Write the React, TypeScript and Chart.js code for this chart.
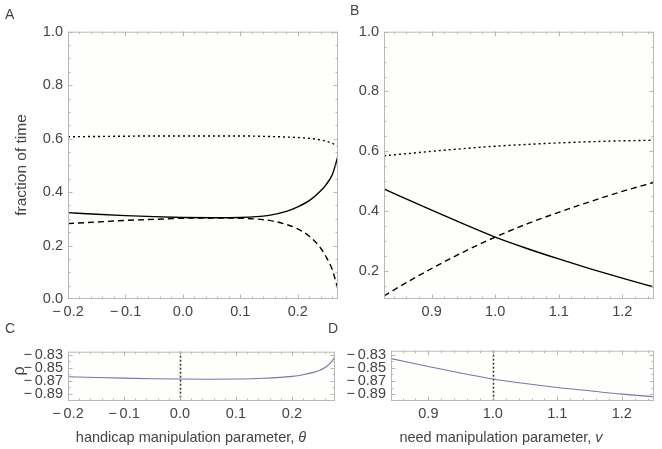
import React, { useEffect, useRef } from "react";
import { Chart, registerables } from "chart.js";

Chart.register(...registerables);

// ---------- data ----------
// Panel A: handicap manipulation parameter theta
const thetaA = [-0.2, -0.15, -0.1, -0.05, 0, 0.05, 0.1, 0.15, 0.18, 0.2, 0.22, 0.24, 0.25, 0.26, 0.27];
const solidA = [0.323, 0.317, 0.312, 0.308, 0.305, 0.304, 0.305, 0.313, 0.328, 0.345, 0.368, 0.405, 0.43, 0.465, 0.535];
const dashedA = [0.282, 0.288, 0.294, 0.298, 0.302, 0.303, 0.302, 0.294, 0.279, 0.262, 0.235, 0.19, 0.155, 0.11, 0.035];
const dottedA = [0.607, 0.608, 0.609, 0.61, 0.61, 0.61, 0.61, 0.608, 0.606, 0.604, 0.601, 0.595, 0.59, 0.582, 0.572];

// Panel B: need manipulation parameter v
const nuB = [0.825, 0.85, 0.9, 0.95, 1.0, 1.05, 1.1, 1.15, 1.2, 1.25];
const solidB = [0.474, 0.45, 0.403, 0.357, 0.313, 0.275, 0.24, 0.207, 0.176, 0.146];
const dashedB = [0.116, 0.148, 0.208, 0.263, 0.313, 0.357, 0.396, 0.432, 0.466, 0.496];
const dottedB = [0.585, 0.59, 0.6, 0.609, 0.617, 0.623, 0.628, 0.632, 0.635, 0.637];

// Panel C: rho vs theta
const thetaC = [-0.2, -0.15, -0.1, -0.05, 0, 0.05, 0.1, 0.15, 0.2, 0.22, 0.24, 0.25, 0.26, 0.27, 0.28];
const rhoC = [-0.8637, -0.8648, -0.8658, -0.8666, -0.8672, -0.8674, -0.8672, -0.866, -0.863, -0.8605, -0.8565, -0.8535, -0.849, -0.8415, -0.829];
const refThetaC = 0;

// Panel D: rho vs v
const nuD = [0.842, 0.9, 0.95, 1.0, 1.05, 1.1, 1.15, 1.2, 1.25];
const rhoD = [-0.836, -0.848, -0.858, -0.867, -0.874, -0.88, -0.885, -0.89, -0.894];
const refNuD = 1.0;

// tick labels
const xTicksTheta = [-0.2, -0.1, 0, 0.1, 0.2];
const yTicksA = [0, 0.2, 0.4, 0.6, 0.8, 1.0];
const xTicksNu = [0.9, 1.0, 1.1, 1.2];
const yTicksB = [0.2, 0.4, 0.6, 0.8, 1.0];
const yTicksRho = [-0.83, -0.85, -0.87, -0.89];

// ---------- styling ----------
const FONT = "'Liberation Sans', Arial, Helvetica, sans-serif";
const TXT = "#444444";
const FRAME = "#b8b8b8";
const BG = "#fefefc";
const RHO_LINE = "#7676aa";

Chart.defaults.font.family = FONT;
Chart.defaults.color = TXT;

function seq(a: number, b: number, step: number): number[] {
  const out: number[] = [];
  const n = Math.round((b - a) / step);
  for (let i = 0; i <= n; i++) out.push(+(a + i * step).toFixed(6));
  return out;
}

const fmt1 = (v: number) => {
  const s = Math.abs(v).toFixed(1);
  return v < -1e-9 ? "\u2212\u2009" + s : s;
};
const fmt2 = (v: number) => {
  const s = Math.abs(v).toFixed(2);
  return v < -1e-9 ? "\u2212\u2009" + s : s;
};

const pts = (xs: number[], ys: number[]) => xs.map((x, i) => ({ x, y: ys[i] }));

const framePlugin = {
  id: "frame",
  beforeDatasetsDraw(chart: any, _args: any, opts: any) {
    const { ctx, chartArea: a, scales } = chart;
    ctx.save();
    ctx.fillStyle = BG;
    ctx.fillRect(a.left, a.top, a.right - a.left, a.bottom - a.top);
    if (opts.refX !== undefined && opts.refX !== null) {
      const px = Math.round(scales.x.getPixelForValue(opts.refX)) + 0.5;
      ctx.strokeStyle = "#3a3a3a";
      ctx.lineWidth = 1.6;
      ctx.setLineDash([2, 2]);
      ctx.beginPath();
      ctx.moveTo(px, a.top);
      ctx.lineTo(px, a.bottom);
      ctx.stroke();
    }
    ctx.restore();
  },
  afterDatasetsDraw(chart: any, _args: any, opts: any) {
    const { ctx, chartArea: a, scales } = chart;
    const xs = scales.x;
    const ys = scales.y;
    ctx.save();
    ctx.strokeStyle = FRAME;
    ctx.lineWidth = 1;
    ctx.strokeRect(a.left + 0.5, a.top + 0.5, a.right - a.left - 1, a.bottom - a.top - 1);
    const drawX = (v: number, len: number) => {
      const px = Math.round(xs.getPixelForValue(v)) + 0.5;
      if (px < a.left || px > a.right) return;
      ctx.beginPath();
      ctx.moveTo(px, a.bottom);
      ctx.lineTo(px, a.bottom - len);
      ctx.moveTo(px, a.top);
      ctx.lineTo(px, a.top + len);
      ctx.stroke();
    };
    const drawY = (v: number, len: number) => {
      const py = Math.round(ys.getPixelForValue(v)) + 0.5;
      if (py < a.top || py > a.bottom) return;
      ctx.beginPath();
      ctx.moveTo(a.left, py);
      ctx.lineTo(a.left + len, py);
      ctx.moveTo(a.right, py);
      ctx.lineTo(a.right - len, py);
      ctx.stroke();
    };
    (opts.xMinor || []).forEach((v: number) => drawX(v, 2.5));
    (opts.yMinor || []).forEach((v: number) => drawY(v, 2.5));
    xs.ticks.forEach((t: any) => drawX(t.value, 4.5));
    ys.ticks.forEach((t: any) => drawY(t.value, 4.5));
    ctx.restore();
  },
};

type PanelSpec = {
  datasets: any[];
  xMin: number;
  xMax: number;
  yMin: number;
  yMax: number;
  xTicks: number[];
  yTicks: number[];
  xFmt: (v: number) => string;
  yFmt: (v: number) => string;
  xMinor: number[];
  yMinor: number[];
  refX?: number;
  yAxisW: number;
  xAxisH: number;
  padTop: number;
  padRight: number;
};

function buildConfig(p: PanelSpec): any {
  const tickFont = { family: FONT, size: 14.5 };
  return {
    type: "line",
    data: { datasets: p.datasets },
    options: {
      animation: false,
      responsive: false,
      events: [],
      layout: { padding: { top: p.padTop, right: p.padRight, left: 0, bottom: 0 } },
      elements: { point: { radius: 0 } },
      plugins: {
        legend: { display: false },
        tooltip: { enabled: false },
        frame: { xMinor: p.xMinor, yMinor: p.yMinor, refX: p.refX },
      },
      scales: {
        x: {
          type: "linear",
          min: p.xMin,
          max: p.xMax,
          grid: { display: false, drawTicks: false },
          border: { display: false },
          ticks: {
            autoSkip: false,
            maxRotation: 0,
            padding: 4,
            font: tickFont,
            color: TXT,
            callback: (v: number) => p.xFmt(v),
          },
          afterBuildTicks: (s: any) => {
            s.ticks = p.xTicks.map((v) => ({ value: v }));
          },
          afterFit: (s: any) => {
            s.height = p.xAxisH;
          },
        },
        y: {
          type: "linear",
          min: p.yMin,
          max: p.yMax,
          grid: { display: false, drawTicks: false },
          border: { display: false },
          ticks: {
            autoSkip: false,
            padding: 5,
            font: tickFont,
            color: TXT,
            callback: (v: number) => p.yFmt(v),
          },
          afterBuildTicks: (s: any) => {
            s.ticks = p.yTicks.map((v) => ({ value: v }));
          },
          afterFit: (s: any) => {
            s.width = p.yAxisW;
          },
        },
      },
    },
    plugins: [framePlugin],
  };
}

const solidStyle = { borderColor: "#000", borderWidth: 1.4, fill: false, cubicInterpolationMode: "monotone" };
const dashedStyle = { ...solidStyle, borderDash: [6, 4] };
const dottedStyle = { ...solidStyle, borderWidth: 1.4, borderDash: [2, 3] };
const rhoStyle = { borderColor: RHO_LINE, borderWidth: 1.1, fill: false, cubicInterpolationMode: "monotone" };

function Panel(props: { spec: PanelSpec; left: number; top: number; width: number; height: number }) {
  const ref = useRef<HTMLCanvasElement>(null);
  useEffect(() => {
    const chart = new Chart(ref.current as HTMLCanvasElement, buildConfig(props.spec));
    return () => chart.destroy();
  }, []);
  return (
    <canvas
      ref={ref}
      width={props.width}
      height={props.height}
      style={{ position: "absolute", left: props.left, top: props.top, width: props.width, height: props.height }}
    />
  );
}

const textBase: React.CSSProperties = {
  position: "absolute",
  fontFamily: FONT,
  color: TXT,
  whiteSpace: "nowrap",
  lineHeight: 1,
};

export default function App() {
  const specA: PanelSpec = {
    datasets: [
      { ...dottedStyle, data: pts(thetaA, dottedA) },
      { ...dashedStyle, data: pts(thetaA, dashedA) },
      { ...solidStyle, data: pts(thetaA, solidA) },
    ],
    xMin: -0.2,
    xMax: 0.27,
    yMin: 0,
    yMax: 1,
    xTicks: xTicksTheta,
    yTicks: yTicksA,
    xFmt: fmt1,
    yFmt: fmt1,
    xMinor: seq(-0.2, 0.26, 0.02),
    yMinor: seq(0, 1, 0.05),
    yAxisW: 60,
    xAxisH: 28,
    padTop: 12,
    padRight: 8,
  };
  const specB: PanelSpec = {
    datasets: [
      { ...dottedStyle, data: pts(nuB, dottedB) },
      { ...dashedStyle, data: pts(nuB, dashedB) },
      { ...solidStyle, data: pts(nuB, solidB) },
    ],
    xMin: 0.825,
    xMax: 1.25,
    yMin: 0.106,
    yMax: 1,
    xTicks: xTicksNu,
    yTicks: yTicksB,
    xFmt: fmt1,
    yFmt: fmt1,
    xMinor: seq(0.84, 1.24, 0.02),
    yMinor: seq(0.15, 1, 0.05),
    yAxisW: 50,
    xAxisH: 28,
    padTop: 12,
    padRight: 8,
  };
  const specC: PanelSpec = {
    datasets: [{ ...rhoStyle, data: pts(thetaC, rhoC) }],
    xMin: -0.2,
    xMax: 0.277,
    yMin: -0.901,
    yMax: -0.825,
    xTicks: xTicksTheta,
    yTicks: yTicksRho,
    xFmt: fmt1,
    yFmt: fmt2,
    xMinor: seq(-0.2, 0.26, 0.02),
    yMinor: seq(-0.9, -0.83, 0.01),
    refX: refThetaC,
    yAxisW: 62,
    xAxisH: 28,
    padTop: 10,
    padRight: 8,
  };
  const specD: PanelSpec = {
    datasets: [{ ...rhoStyle, data: pts(nuD, rhoD) }],
    xMin: 0.842,
    xMax: 1.25,
    yMin: -0.9005,
    yMax: -0.824,
    xTicks: xTicksNu,
    yTicks: yTicksRho,
    xFmt: fmt1,
    yFmt: fmt2,
    xMinor: seq(0.86, 1.24, 0.02),
    yMinor: seq(-0.9, -0.83, 0.01),
    refX: refNuD,
    yAxisW: 62,
    xAxisH: 28,
    padTop: 10,
    padRight: 6,
  };

  return (
    <div
      style={{
        position: "fixed",
        left: 0,
        top: 0,
        width: 662,
        height: 449,
        overflow: "hidden",
        background: "#ffffff",
      }}
    >
      {/* A: plot area 68..338 x 30..299 */}
      <Panel spec={specA} left={8} top={18} width={338} height={309} />
      {/* B: plot area 384..654 x 30..299 */}
      <Panel spec={specB} left={334} top={18} width={328} height={309} />
      {/* C: plot area 68..335 x 348..401 */}
      <Panel spec={specC} left={6} top={338} width={337} height={91} />
      {/* D: plot area 391..654 x 347..401 */}
      <Panel spec={specD} left={329} top={337} width={331} height={92} />

      <div style={{ ...textBase, left: 5, top: 7, fontSize: 14 }}>A</div>
      <div style={{ ...textBase, left: 350, top: 3, fontSize: 14 }}>B</div>
      <div style={{ ...textBase, left: 5, top: 321, fontSize: 14 }}>C</div>
      <div style={{ ...textBase, left: 328, top: 321, fontSize: 14 }}>D</div>

      <div
        style={{
          ...textBase,
          left: 21,
          top: 165,
          fontSize: 15.5,
          transform: "translate(-50%, -50%) rotate(-90deg)",
        }}
      >
        fraction of time
      </div>
      <div
        style={{
          ...textBase,
          left: 19,
          top: 371,
          fontSize: 16,
          transform: "translate(-50%, -50%) rotate(-90deg)",
        }}
      >
        ρ
      </div>
      <div style={{ ...textBase, left: 191, top: 437, fontSize: 14.5, transform: "translate(-50%, -50%)" }}>
        handicap manipulation parameter, <i>θ</i>
      </div>
      <div style={{ ...textBase, left: 501, top: 437, fontSize: 14.5, transform: "translate(-50%, -50%)" }}>
        need manipulation parameter, <i>v</i>
      </div>
    </div>
  );
}
